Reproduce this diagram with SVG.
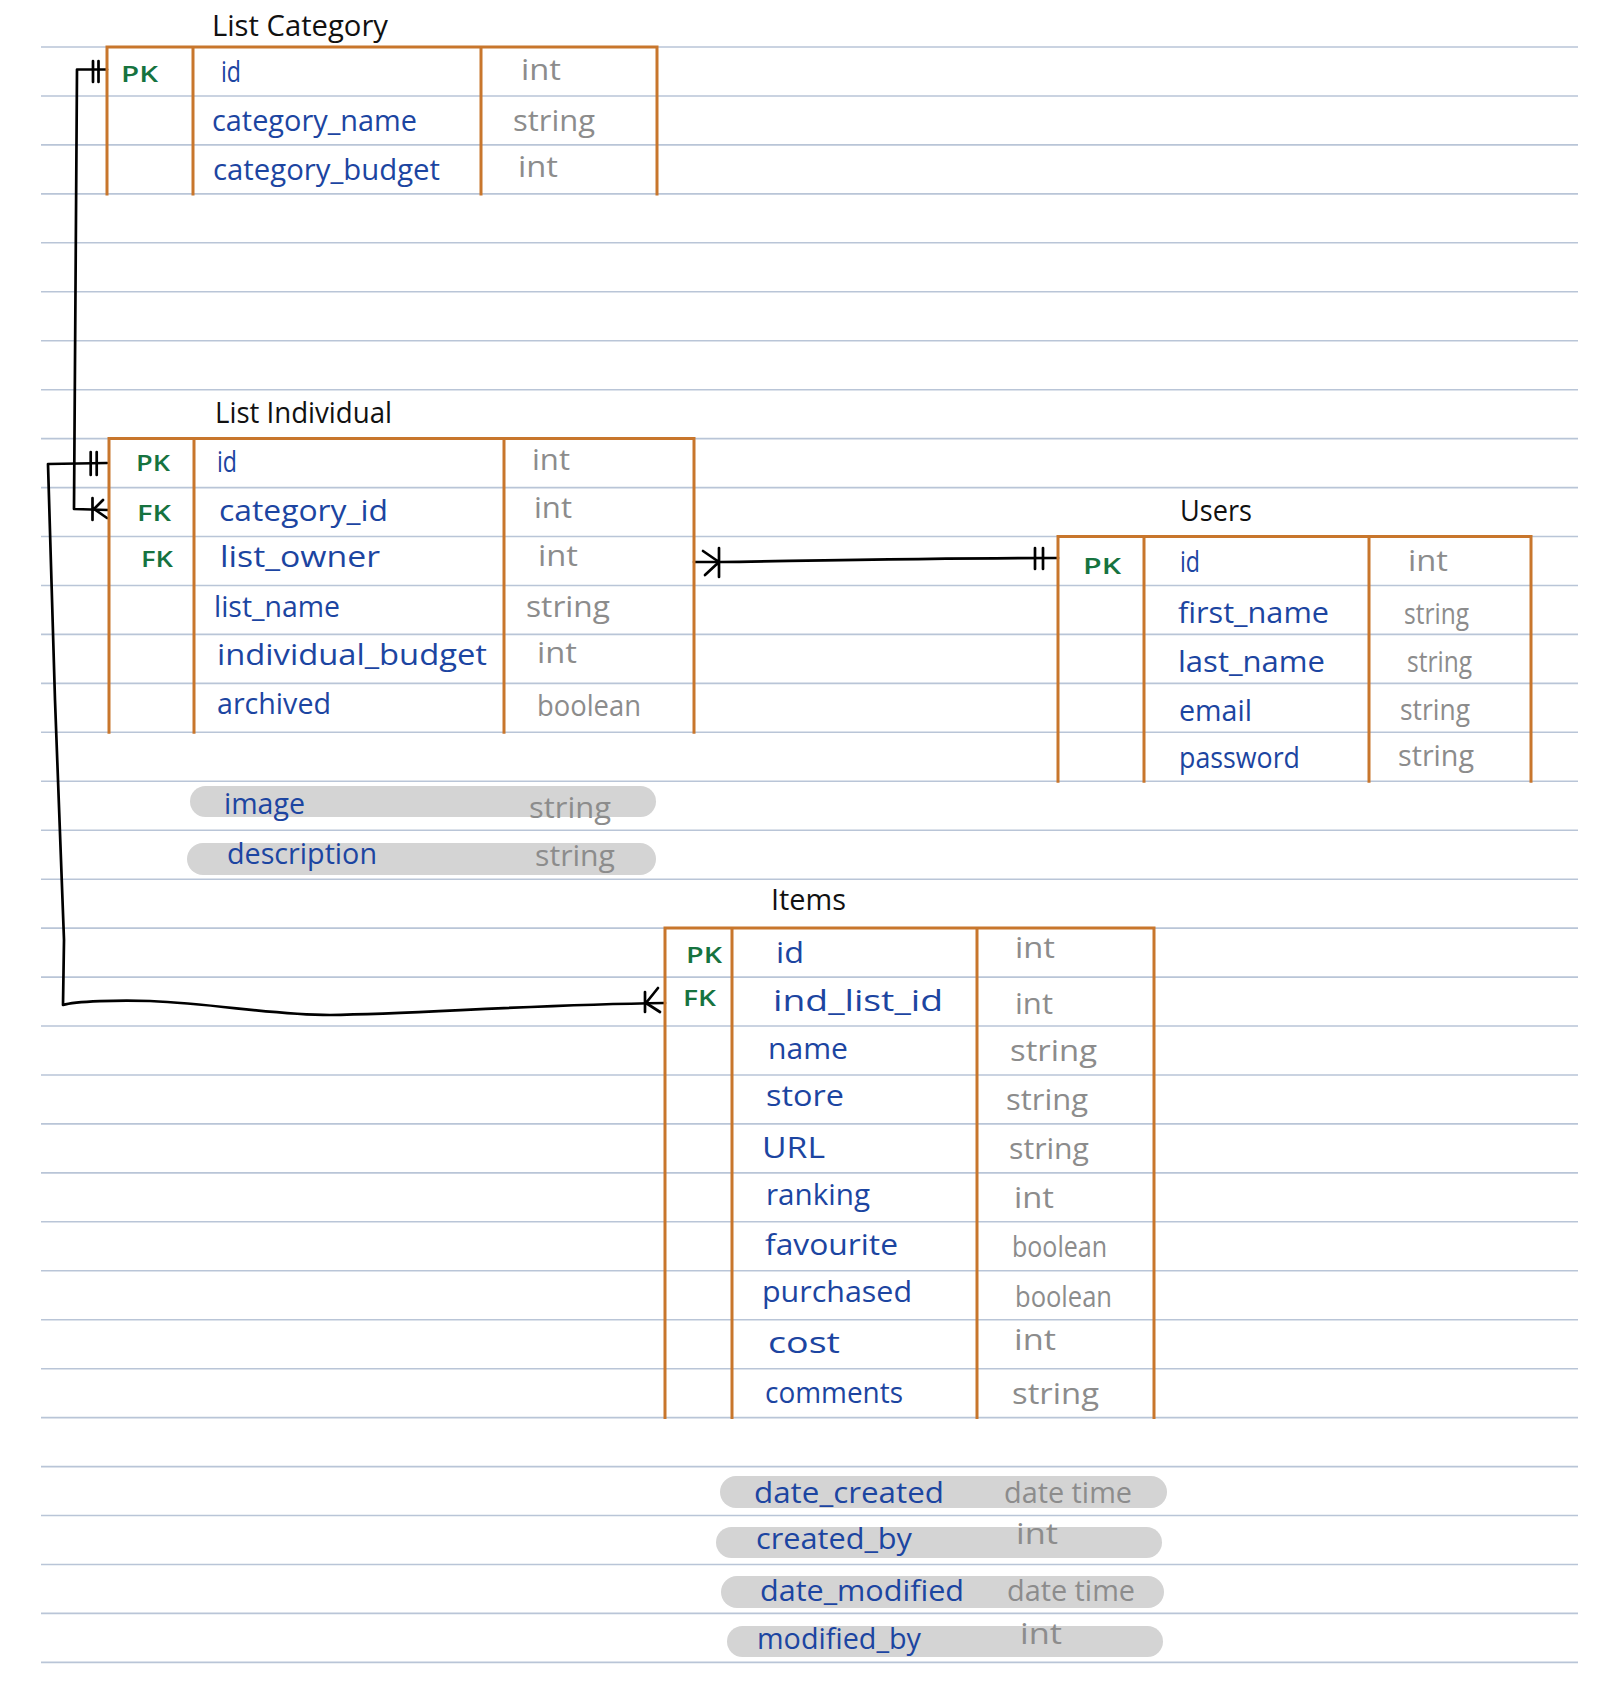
<svg xmlns="http://www.w3.org/2000/svg" width="1620" height="1706" viewBox="0 0 1620 1706">
<defs>
<style>
.rule{stroke:#b9c5d7;stroke-width:1.6}
.tbl{fill:none;stroke:#c8762c;stroke-width:3;stroke-linecap:square}
.title{font-family:"Open Sans","Liberation Sans",sans-serif;font-size:30px;fill:#111}
.key{font-family:"Open Sans","Liberation Sans",sans-serif;font-size:22px;font-weight:600;fill:#16733f}
.fld{font-family:"Open Sans","Liberation Sans",sans-serif;font-size:30px;font-weight:500;fill:#1c45a1}
.typ{font-family:"Open Sans","Liberation Sans",sans-serif;font-size:30px;fill:#8c8c8c}
.pill{fill:#d4d4d4}
.conn{fill:none;stroke:#000;stroke-width:2.7;stroke-linecap:round;stroke-linejoin:round}
</style>
</defs>
<rect width="1620" height="1706" fill="#fff"/>
<g id="rules">
<line class="rule" x1="41" y1="47" x2="1578" y2="47"/>
<line class="rule" x1="41" y1="96" x2="1578" y2="96"/>
<line class="rule" x1="41" y1="144.9" x2="1578" y2="144.9"/>
<line class="rule" x1="41" y1="193.9" x2="1578" y2="193.9"/>
<line class="rule" x1="41" y1="242.8" x2="1578" y2="242.8"/>
<line class="rule" x1="41" y1="291.8" x2="1578" y2="291.8"/>
<line class="rule" x1="41" y1="340.7" x2="1578" y2="340.7"/>
<line class="rule" x1="41" y1="389.7" x2="1578" y2="389.7"/>
<line class="rule" x1="41" y1="438.6" x2="1578" y2="438.6"/>
<line class="rule" x1="41" y1="487.6" x2="1578" y2="487.6"/>
<line class="rule" x1="41" y1="536.5" x2="1578" y2="536.5"/>
<line class="rule" x1="41" y1="585.5" x2="1578" y2="585.5"/>
<line class="rule" x1="41" y1="634.4" x2="1578" y2="634.4"/>
<line class="rule" x1="41" y1="683.4" x2="1578" y2="683.4"/>
<line class="rule" x1="41" y1="732.3" x2="1578" y2="732.3"/>
<line class="rule" x1="41" y1="781.3" x2="1578" y2="781.3"/>
<line class="rule" x1="41" y1="830.2" x2="1578" y2="830.2"/>
<line class="rule" x1="41" y1="879.2" x2="1578" y2="879.2"/>
<line class="rule" x1="41" y1="928.1" x2="1578" y2="928.1"/>
<line class="rule" x1="41" y1="977.1" x2="1578" y2="977.1"/>
<line class="rule" x1="41" y1="1026" x2="1578" y2="1026"/>
<line class="rule" x1="41" y1="1075" x2="1578" y2="1075"/>
<line class="rule" x1="41" y1="1123.9" x2="1578" y2="1123.9"/>
<line class="rule" x1="41" y1="1172.9" x2="1578" y2="1172.9"/>
<line class="rule" x1="41" y1="1221.8" x2="1578" y2="1221.8"/>
<line class="rule" x1="41" y1="1270.8" x2="1578" y2="1270.8"/>
<line class="rule" x1="41" y1="1319.7" x2="1578" y2="1319.7"/>
<line class="rule" x1="41" y1="1368.7" x2="1578" y2="1368.7"/>
<line class="rule" x1="41" y1="1417.6" x2="1578" y2="1417.6"/>
<line class="rule" x1="41" y1="1466.6" x2="1578" y2="1466.6"/>
<line class="rule" x1="41" y1="1515.5" x2="1578" y2="1515.5"/>
<line class="rule" x1="41" y1="1564.5" x2="1578" y2="1564.5"/>
<line class="rule" x1="41" y1="1613.4" x2="1578" y2="1613.4"/>
<line class="rule" x1="41" y1="1662.4" x2="1578" y2="1662.4"/>
</g>

<g id="connectors">
<path class="conn" d="M107,69.5 L77,69.5 L74,509 L108,510"/>
<path class="conn" d="M93,61 V82 M98.5,61 V82"/>
<path class="conn" d="M92.5,498 V520 M94,509 L103,500 M94,509 L107,518"/>
<path class="conn" d="M107,463 L48,464 L55,700 L64,940 L63,1005 C75,1001 120,1000 150,1001 C220,1004 270,1015 330,1015 C420,1014 520,1005 665,1003"/>
<path class="conn" d="M90.7,452 V475 M96.7,452 V475"/>
<path class="conn" d="M645,992 V1012 M646,1003 L658,988 M646,1003 L660,1012"/>
<path class="conn" d="M694,562 L720,562 C850,560 950,558 1058,558"/>
<path class="conn" d="M719,548 V577 M719,562 L703,551 M719,562 L705,575"/>
<path class="conn" d="M1035,548 V569 M1043,548 V569"/>
</g>

<g id="list-category">
<text class="title" x="212" y="36" textLength="176" lengthAdjust="spacingAndGlyphs">List Category</text>
<path class="tbl" d="M107,47 H657 M107,47 V193.9 M193,47 V193.9 M481,47 V193.9 M657,47 V193.9"/>
<text class="key" x="121" y="82" textLength="37" lengthAdjust="spacingAndGlyphs">PK</text>
<text class="fld" x="221" y="82" textLength="20" lengthAdjust="spacingAndGlyphs">id</text>
<text class="typ" x="521" y="80" textLength="40" lengthAdjust="spacingAndGlyphs">int</text>
<text class="fld" x="212" y="131" textLength="205" lengthAdjust="spacingAndGlyphs">category_name</text>
<text class="typ" x="513" y="131" textLength="82" lengthAdjust="spacingAndGlyphs">string</text>
<text class="fld" x="213" y="180" textLength="227" lengthAdjust="spacingAndGlyphs">category_budget</text>
<text class="typ" x="518" y="177" textLength="40" lengthAdjust="spacingAndGlyphs">int</text>
</g>

<g id="list-individual">
<text class="title" x="215" y="423" textLength="177" lengthAdjust="spacingAndGlyphs">List Individual</text>
<path class="tbl" d="M109,438.6 H694 M109,438.6 V732.3 M194,438.6 V732.3 M504,438.6 V732.3 M694,438.6 V732.3"/>
<text class="key" x="136" y="471" textLength="34" lengthAdjust="spacingAndGlyphs">PK</text>
<text class="fld" x="217" y="472" textLength="20" lengthAdjust="spacingAndGlyphs">id</text>
<text class="typ" x="532" y="470" textLength="38" lengthAdjust="spacingAndGlyphs">int</text>
<text class="key" x="137" y="521" textLength="34" lengthAdjust="spacingAndGlyphs">FK</text>
<text class="fld" x="219" y="521" textLength="169" lengthAdjust="spacingAndGlyphs">category_id</text>
<text class="typ" x="534" y="518" textLength="38" lengthAdjust="spacingAndGlyphs">int</text>
<text class="key" x="141" y="567" textLength="32" lengthAdjust="spacingAndGlyphs">FK</text>
<text class="fld" x="220" y="567" textLength="160" lengthAdjust="spacingAndGlyphs">list_owner</text>
<text class="typ" x="538" y="566" textLength="40" lengthAdjust="spacingAndGlyphs">int</text>
<text class="fld" x="214" y="617" textLength="126" lengthAdjust="spacingAndGlyphs">list_name</text>
<text class="typ" x="526" y="617" textLength="84" lengthAdjust="spacingAndGlyphs">string</text>
<text class="fld" x="217" y="665" textLength="270" lengthAdjust="spacingAndGlyphs">individual_budget</text>
<text class="typ" x="537" y="663" textLength="40" lengthAdjust="spacingAndGlyphs">int</text>
<text class="fld" x="217" y="714" textLength="114" lengthAdjust="spacingAndGlyphs">archived</text>
<text class="typ" x="537" y="716" textLength="104" lengthAdjust="spacingAndGlyphs">boolean</text>
<rect class="pill" x="190" y="786" width="466" height="31" rx="15.5"/>
<text class="fld" x="224" y="814" textLength="81" lengthAdjust="spacingAndGlyphs">image</text>
<text class="typ" x="529" y="818" textLength="82" lengthAdjust="spacingAndGlyphs">string</text>
<rect class="pill" x="187" y="843" width="469" height="32" rx="16"/>
<text class="fld" x="227" y="864" textLength="150" lengthAdjust="spacingAndGlyphs">description</text>
<text class="typ" x="535" y="866" textLength="80" lengthAdjust="spacingAndGlyphs">string</text>
</g>

<g id="users">
<text class="title" x="1180" y="521" textLength="72" lengthAdjust="spacingAndGlyphs">Users</text>
<path class="tbl" d="M1058,536.5 H1531 M1058,536.5 V781.3 M1144,536.5 V781.3 M1369,536.5 V781.3 M1531,536.5 V781.3"/>
<text class="key" x="1083" y="574" textLength="38" lengthAdjust="spacingAndGlyphs">PK</text>
<text class="fld" x="1180" y="572" textLength="20" lengthAdjust="spacingAndGlyphs">id</text>
<text class="typ" x="1408" y="571" textLength="40" lengthAdjust="spacingAndGlyphs">int</text>
<text class="fld" x="1178" y="623" textLength="151" lengthAdjust="spacingAndGlyphs">first_name</text>
<text class="typ" x="1404" y="624" textLength="65" lengthAdjust="spacingAndGlyphs">string</text>
<text class="fld" x="1178" y="672" textLength="147" lengthAdjust="spacingAndGlyphs">last_name</text>
<text class="typ" x="1407" y="672" textLength="65" lengthAdjust="spacingAndGlyphs">string</text>
<text class="fld" x="1179" y="721" textLength="73" lengthAdjust="spacingAndGlyphs">email</text>
<text class="typ" x="1400" y="720" textLength="70" lengthAdjust="spacingAndGlyphs">string</text>
<text class="fld" x="1179" y="768" textLength="121" lengthAdjust="spacingAndGlyphs">password</text>
<text class="typ" x="1398" y="766" textLength="76" lengthAdjust="spacingAndGlyphs">string</text>
</g>

<g id="items">
<text class="title" x="771" y="910" textLength="75" lengthAdjust="spacingAndGlyphs">Items</text>
<path class="tbl" d="M665,928.1 H1154 M665,928.1 V1417.6 M732,928.1 V1417.6 M977,928.1 V1417.6 M1154,928.1 V1417.6"/>
<text class="key" x="686" y="963" textLength="36" lengthAdjust="spacingAndGlyphs">PK</text>
<text class="fld" x="776" y="963" textLength="28" lengthAdjust="spacingAndGlyphs">id</text>
<text class="typ" x="1015" y="958" textLength="40" lengthAdjust="spacingAndGlyphs">int</text>
<text class="key" x="683" y="1006" textLength="33" lengthAdjust="spacingAndGlyphs">FK</text>
<text class="fld" x="773" y="1011" textLength="170" lengthAdjust="spacingAndGlyphs">ind_list_id</text>
<text class="typ" x="1015" y="1014" textLength="38" lengthAdjust="spacingAndGlyphs">int</text>
<text class="fld" x="768" y="1059" textLength="80" lengthAdjust="spacingAndGlyphs">name</text>
<text class="typ" x="1010" y="1061" textLength="87" lengthAdjust="spacingAndGlyphs">string</text>
<text class="fld" x="766" y="1106" textLength="78" lengthAdjust="spacingAndGlyphs">store</text>
<text class="typ" x="1006" y="1110" textLength="82" lengthAdjust="spacingAndGlyphs">string</text>
<text class="fld" x="762" y="1158" textLength="63" lengthAdjust="spacingAndGlyphs">URL</text>
<text class="typ" x="1009" y="1159" textLength="80" lengthAdjust="spacingAndGlyphs">string</text>
<text class="fld" x="766" y="1205" textLength="104" lengthAdjust="spacingAndGlyphs">ranking</text>
<text class="typ" x="1014" y="1208" textLength="40" lengthAdjust="spacingAndGlyphs">int</text>
<text class="fld" x="765" y="1255" textLength="133" lengthAdjust="spacingAndGlyphs">favourite</text>
<text class="typ" x="1012" y="1257" textLength="95" lengthAdjust="spacingAndGlyphs">boolean</text>
<text class="fld" x="762" y="1302" textLength="150" lengthAdjust="spacingAndGlyphs">purchased</text>
<text class="typ" x="1015" y="1307" textLength="97" lengthAdjust="spacingAndGlyphs">boolean</text>
<text class="fld" x="768" y="1353" textLength="72" lengthAdjust="spacingAndGlyphs">cost</text>
<text class="typ" x="1014" y="1350" textLength="42" lengthAdjust="spacingAndGlyphs">int</text>
<text class="fld" x="765" y="1403" textLength="138" lengthAdjust="spacingAndGlyphs">comments</text>
<text class="typ" x="1012" y="1404" textLength="87" lengthAdjust="spacingAndGlyphs">string</text>
<rect class="pill" x="720" y="1476" width="447" height="32" rx="16"/>
<text class="fld" x="754" y="1503" textLength="190" lengthAdjust="spacingAndGlyphs">date_created</text>
<text class="typ" x="1004" y="1503" textLength="128" lengthAdjust="spacingAndGlyphs">date time</text>
<rect class="pill" x="716" y="1527" width="446" height="31" rx="15.5"/>
<text class="fld" x="756" y="1549" textLength="156" lengthAdjust="spacingAndGlyphs">created_by</text>
<text class="typ" x="1016" y="1544" textLength="42" lengthAdjust="spacingAndGlyphs">int</text>
<rect class="pill" x="721" y="1576" width="443" height="32" rx="16"/>
<text class="fld" x="760" y="1601" textLength="204" lengthAdjust="spacingAndGlyphs">date_modified</text>
<text class="typ" x="1007" y="1601" textLength="128" lengthAdjust="spacingAndGlyphs">date time</text>
<rect class="pill" x="727" y="1626" width="436" height="31" rx="15.5"/>
<text class="fld" x="757" y="1649" textLength="164" lengthAdjust="spacingAndGlyphs">modified_by</text>
<text class="typ" x="1020" y="1644" textLength="42" lengthAdjust="spacingAndGlyphs">int</text>
</g>
</svg>
